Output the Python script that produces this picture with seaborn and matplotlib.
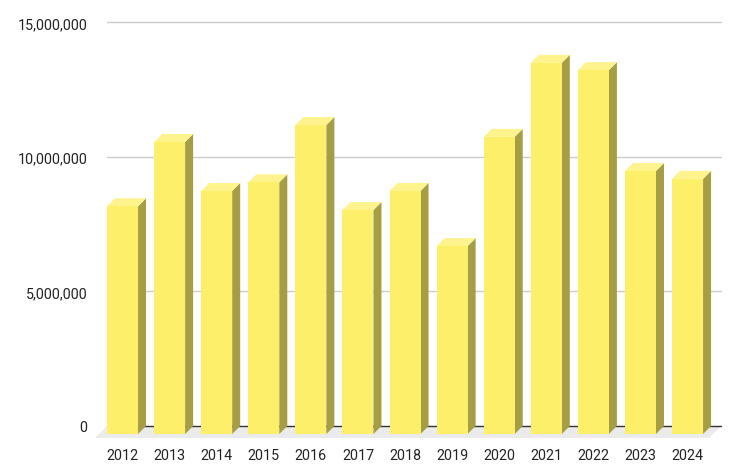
import numpy as np
import pandas as pd
import seaborn as sns
import matplotlib

matplotlib.use("Agg")
import matplotlib.pyplot as plt
from matplotlib.patches import Polygon

years = ["2012", "2013", "2014", "2015", "2016", "2017", "2018",
         "2019", "2020", "2021", "2022", "2023", "2024"]
values = [8460000, 10850000, 9030000, 9350000, 11480000, 8320000, 9030000,
          6980000, 11040000, 13790000, 13520000, 9770000, 9480000]
y_ticks = [0, 5000000, 10000000, 15000000]

front_color = "#fdef6a"
top_color = "#fef38c"
side_color = "#a69e45"

sns.set_theme(style="white")
plt.rcParams["font.family"] = ["Roboto", "DejaVu Sans"]

df = pd.DataFrame({"year": years, "value": values})

fig = plt.figure(figsize=(7.33, 4.77), dpi=100)
ax = fig.add_axes([107 / 733, 50 / 477, 614 / 733, 403.7 / 477])

bar_w = 0.658
sns.barplot(data=df, x="year", y="value", color=front_color, width=bar_w,
            saturation=1, ax=ax, zorder=5)

ax.set_xlim(-0.5, 12.54)
ax.set_ylim(0, 15000000)
fig.canvas.draw()

# size of the 3d depth in data units
px_x = ax.transData.transform((1, 0))[0] - ax.transData.transform((0, 0))[0]
px_y = ax.transData.transform((0, 1e6))[1] - ax.transData.transform((0, 0))[1]
dx = 8 / px_x
dy = 8 / px_y * 1e6
fdx = 12 / px_x
fdy = 12 / px_y * 1e6

# front faces shifted down/left
for p in ax.patches:
    p.set_x(p.get_x() - dx)
    p.set_y(-dy)
    p.set_clip_on(False)
    p.set_linewidth(0)

for i, v in enumerate(values):
    l, r = i - bar_w / 2, i + bar_w / 2
    side = Polygon([(r - dx, -dy), (r, 0), (r, v), (r - dx, v - dy)],
                   closed=True, fc=side_color, ec="none", zorder=4, clip_on=False)
    top = Polygon([(l - dx, v - dy), (l, v), (r, v), (r - dx, v - dy)],
                  closed=True, fc=top_color, ec="none", zorder=4, clip_on=False)
    ax.add_patch(side)
    ax.add_patch(top)

xl, xr = ax.get_xlim()
floor = Polygon([(xl, 0), (xr, 0), (xr - fdx, -fdy), (xl - fdx, -fdy)],
                closed=True, fc="#ebebeb", ec="none", zorder=1, clip_on=False)
ax.add_patch(floor)
ax.plot([xl, xr], [0, 0], color="#333333", lw=1, zorder=2, clip_on=False)

for t in y_ticks[1:]:
    ax.axhline(t, color="#cccccc", lw=1, zorder=0, clip_on=False)

ax.set_yticks(y_ticks)
ax.set_yticklabels([f"{t:,}" for t in y_ticks], fontsize=10.3, color="#222222")
ax.set_xticks(np.arange(len(years)) - dx)
ax.set_xticklabels(years, fontsize=10.3, color="#222222")
ax.tick_params(axis="y", length=0, pad=14)
ax.tick_params(axis="x", length=0, pad=15.5)
ax.set_xlabel("")
ax.set_ylabel("")
for s in ax.spines.values():
    s.set_visible(False)

fig.savefig("out.png", dpi=100)
